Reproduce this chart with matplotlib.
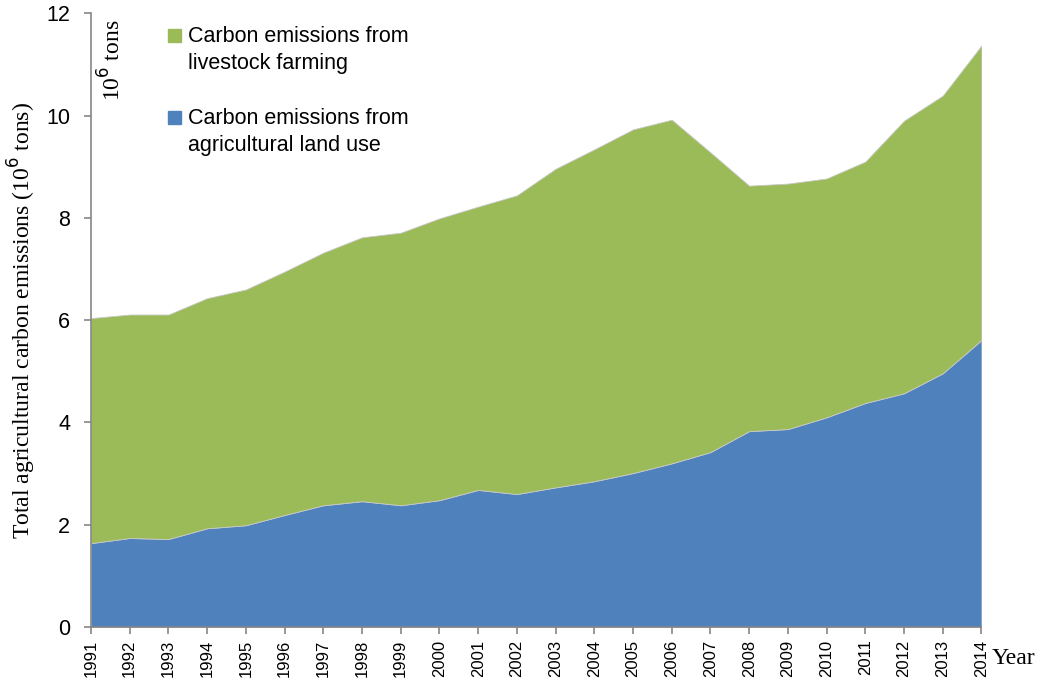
import matplotlib
matplotlib.use('Agg')
import matplotlib.pyplot as plt
from matplotlib.patches import Rectangle

# data (10^6 tons)
years = list(range(1991, 2015))
land_use = [1.64, 1.74, 1.72, 1.93, 1.99, 2.19, 2.38, 2.46, 2.38, 2.48, 2.68, 2.60,
            2.73, 2.85, 3.01, 3.20, 3.42, 3.83, 3.87, 4.10, 4.38, 4.57, 4.96, 5.61]
livestock = [4.40, 4.37, 4.39, 4.50, 4.61, 4.76, 4.94, 5.16, 5.33, 5.51, 5.54, 5.84,
             6.23, 6.49, 6.72, 6.72, 5.86, 4.80, 4.80, 4.67, 4.72, 5.33, 5.43, 5.76]
y_ticks = [0, 2, 4, 6, 8, 10, 12]
legend_labels = ['Carbon emissions from\nlivestock farming',
                 'Carbon emissions from\nagricultural land use']

blue = '#4F81BD'
green = '#9BBB59'
grey = '#868686'

W, H = 1050, 699
fig = plt.figure(figsize=(W / 100, H / 100), dpi=100)
ax = fig.add_axes([0.0867, 0.103, 0.848, 0.878])

ax.stackplot(years, land_use, livestock, colors=[blue, green],
             edgecolor='#c8c8c8', linewidth=0.6)

ax.set_xlim(years[0], years[-1])
ax.set_ylim(0, 12)
ax.set_yticks(y_ticks)
ax.set_xticks(years)
ax.set_xticklabels([str(y) for y in years], rotation=90,
                   fontfamily='Liberation Sans', fontsize=12)
for lbl in ax.get_yticklabels():
    lbl.set_fontfamily('Liberation Sans')
    lbl.set_fontsize(15.5)

for s in ['top', 'right']:
    ax.spines[s].set_visible(False)
for s in ['left', 'bottom']:
    ax.spines[s].set_color(grey)
    ax.spines[s].set_linewidth(1.2)
ax.tick_params(axis='both', direction='out', color=grey, length=5, width=1.2)
ax.tick_params(axis='x', pad=4)
ax.tick_params(axis='y', pad=10)

ax.set_ylabel('Total agricultural carbon emissions (10$^6$ tons)',
              fontfamily='Liberation Serif', fontsize=17, labelpad=6)
ax.text(1.012, -0.035, 'Year', transform=ax.transAxes, fontfamily='Liberation Serif',
        fontsize=17, va='top', ha='left')
ax.text(0.008, 0.99, '10$^6$ tons', transform=ax.transAxes, rotation=90,
        fontfamily='Liberation Serif', fontsize=17, va='top', ha='left')

# legend drawn by hand: square sits next to the first line of each label
for (label, col, ytop) in zip(legend_labels, [green, blue], [35, 117]):
    fig.patches.append(Rectangle(((168) / W, 1 - (ytop + 6.5) / H), 13 / W, 13 / H,
                                 transform=fig.transFigure, color=col))
    fig.text(188 / W, 1 - (ytop + 15) / H, label, fontfamily='Liberation Sans',
             fontsize=15.5, va='center', ha='left', linespacing=1.4)

fig.savefig('out.png', dpi=100)
